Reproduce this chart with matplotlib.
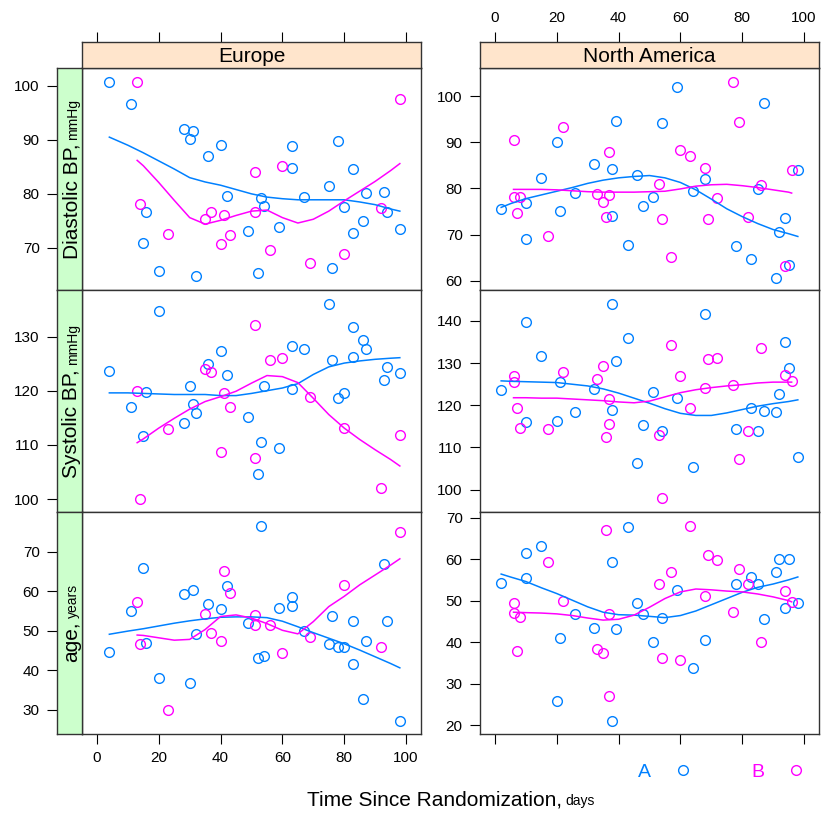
import matplotlib
matplotlib.use('Agg')
import matplotlib.pyplot as plt
from matplotlib.transforms import Affine2D
from matplotlib.lines import Line2D

plt.rcParams['font.family'] = ['Liberation Sans', 'DejaVu Sans']

# --- Europe, group A ---
eu_a_days = [4, 11, 15, 16, 20, 28, 30, 31, 32, 36, 40, 42, 49, 52, 53, 54,
             59, 63, 63, 67, 75, 76, 78, 80, 83, 83, 86, 87, 93, 94, 98]
eu_a_dbp = [100.7, 96.7, 70.9, 76.7, 65.8, 92.0, 90.1, 91.7, 64.7, 87.0, 89.0, 79.6, 73.1, 65.4, 79.3, 77.8,
            73.8, 88.8, 84.8, 79.4, 81.5, 66.2, 89.8, 77.6, 84.6, 72.7, 74.9, 80.1, 80.4, 76.6, 73.5]
eu_a_sbp = [123.7, 116.9, 111.6, 119.8, 134.8, 114.1, 120.8, 117.6, 115.8, 125.0, 127.4, 122.9, 115.2, 104.7, 110.6, 120.8,
            109.5, 128.3, 120.3, 127.7, 136.0, 125.7, 118.6, 119.6, 131.7, 126.2, 129.3, 127.7, 121.9, 124.3, 123.3]
eu_a_age = [44.5, 55.1, 65.8, 47.0, 38.1, 59.2, 36.8, 60.3, 49.1, 56.7, 55.4, 61.3, 51.9, 43.0, 76.5, 43.7,
            55.8, 58.6, 56.3, 49.9, 46.6, 53.7, 45.8, 46.0, 41.5, 52.5, 32.6, 47.4, 66.9, 52.5, 27.2]

# --- Europe, group B ---
eu_b_days = [13, 14, 23, 35, 37, 40, 41, 43, 51, 51, 56, 60, 69, 80, 92, 98]
eu_b_dbp = [100.7, 78.1, 72.5, 75.4, 76.7, 70.7, 76.1, 72.4, 84.0, 76.6, 69.6, 85.1, 67.2, 68.9, 77.4, 97.5]
eu_b_sbp = [120.0, 100.0, 112.9, 124.0, 123.4, 108.7, 119.6, 117.0, 132.2, 107.5, 125.7, 126.0, 118.9, 113.1, 102.0, 111.8]
eu_b_age = [57.3, 46.6, 29.9, 54.2, 49.3, 47.5, 65.2, 59.5, 54.0, 51.4, 51.4, 44.3, 48.3, 61.6, 45.8, 74.9]

# --- North America, group A ---
na_a_days = [2, 10, 10, 15, 20, 21, 26, 32, 38, 38, 39, 43, 46, 48, 51, 54,
             59, 64, 68, 78, 83, 85, 87, 91, 92, 94, 95, 98]
na_a_dbp = [75.6, 76.9, 69.1, 82.2, 90.0, 75.2, 79.1, 85.2, 84.2, 74.0, 94.6, 67.8, 82.9, 76.1, 78.2, 94.2,
            102.0, 79.4, 82.0, 67.6, 64.7, 79.8, 98.6, 60.7, 70.5, 73.6, 63.4, 84.1]
na_a_sbp = [123.6, 116.1, 139.8, 131.8, 116.3, 125.6, 118.3, 123.9, 144.0, 118.9, 130.5, 135.9, 106.3, 115.3, 123.2, 113.8,
            121.8, 105.3, 141.7, 114.3, 119.4, 113.9, 118.7, 118.3, 122.6, 135.1, 128.9, 107.7]
na_a_age = [54.2, 55.5, 61.4, 63.2, 25.8, 41.1, 46.7, 43.5, 59.4, 21.0, 43.2, 67.7, 49.4, 46.7, 39.9, 45.9,
            52.6, 33.8, 40.5, 53.9, 55.6, 53.9, 45.6, 57.0, 60.0, 48.3, 60.0, 49.4]

# --- North America, group B ---
na_b_days = [6, 6, 7, 8, 17, 22, 33, 35, 36, 37, 37, 53, 54, 57, 60, 63,
             68, 69, 72, 77, 79, 82, 86, 94, 96]
na_b_dbp = [90.6, 78.1, 74.6, 78.1, 69.8, 93.4, 78.9, 77.1, 73.8, 87.9, 78.5, 81.0, 73.4, 65.1, 88.3, 87.1,
            84.4, 73.4, 77.9, 103.1, 94.4, 73.8, 80.7, 63.3, 83.9]
na_b_sbp = [127.0, 125.6, 119.4, 114.6, 114.3, 127.8, 126.2, 129.4, 112.6, 115.5, 121.5, 113.0, 98.0, 134.3, 127.0, 119.4,
            124.0, 131.0, 131.3, 124.8, 107.3, 113.8, 133.7, 127.2, 125.8]
na_b_age = [49.5, 47.1, 37.9, 46.0, 59.4, 49.9, 38.3, 37.3, 67.0, 46.7, 27.0, 53.9, 36.2, 57.0, 35.7, 68.1,
            51.2, 61.0, 59.8, 47.3, 57.6, 53.9, 40.1, 52.2, 49.7]

# loess smooths, read along a grid of days
eu_a_grid = [4, 10, 15, 20, 25, 30, 35, 40, 45, 50, 55, 60, 65, 70, 75, 80, 85, 90, 95, 98]
eu_a_dbp_fit = [90.5, 89.0, 87.6, 86.1, 84.6, 83.0, 82.2, 81.6, 80.8, 80.0, 79.4, 79.1, 78.9, 78.9, 78.9, 78.9,
                78.5, 78.0, 77.2, 76.8]
eu_a_sbp_fit = [119.6, 119.6, 119.5, 119.4, 119.3, 119.3, 119.3, 119.1, 119.1, 119.5, 120.0, 120.5, 121.3, 123.0,
                124.4, 125.1, 125.5, 125.8, 126.0, 126.1]
eu_a_age_fit = [49.1, 49.9, 50.5, 51.2, 51.9, 52.5, 53.0, 53.4, 53.5, 53.5, 53.3, 52.4, 51.0, 49.5, 48.1, 46.7,
                45.1, 43.4, 41.7, 40.6]

eu_b_grid = [13, 15, 20, 25, 30, 35, 40, 45, 50, 55, 60, 65, 70, 75, 80, 85, 90, 95, 98]
eu_b_dbp_fit = [86.2, 85.2, 82.1, 78.8, 75.6, 74.4, 75.1, 76.0, 76.8, 77.0, 75.6, 74.6, 75.3, 76.8, 78.7, 80.5,
                82.3, 84.3, 85.6]
eu_b_sbp_fit = [110.4, 111.1, 113.1, 114.9, 116.6, 118.0, 118.9, 119.9, 121.4, 122.8, 122.6, 121.5, 118.6, 115.6,
                113.1, 111.0, 109.1, 107.3, 106.1]
eu_b_age_fit = [48.9, 48.8, 48.2, 47.6, 47.8, 50.3, 53.6, 54.0, 53.2, 51.8, 50.1, 49.2, 52.3, 56.1, 58.7, 61.6,
                64.1, 66.6, 68.2]

na_a_grid = [2, 5, 10, 15, 20, 25, 30, 35, 40, 45, 50, 55, 60, 65, 70, 75, 80, 85, 90, 95, 98]
na_a_dbp_fit = [75.9, 76.7, 77.8, 78.6, 79.4, 80.2, 81.1, 81.8, 82.3, 82.6, 82.8, 82.3, 81.3, 79.7, 77.7, 75.6,
                73.9, 72.4, 71.1, 70.2, 69.6]
na_a_sbp_fit = [125.8, 125.7, 125.6, 125.5, 125.4, 125.0, 124.6, 123.9, 122.9, 121.7, 120.5, 119.2, 118.1, 117.6,
                117.6, 118.2, 119.0, 119.8, 120.4, 120.9, 121.3]
na_a_age_fit = [56.4, 55.7, 54.6, 53.1, 51.7, 50.1, 48.5, 47.2, 46.6, 46.5, 46.2, 45.9, 46.4, 47.5, 49.0, 50.5,
                52.0, 53.2, 54.0, 55.0, 55.7]

na_b_grid = [6, 10, 15, 20, 25, 30, 35, 40, 45, 50, 55, 60, 65, 70, 75, 80, 85, 90, 95, 96]
na_b_dbp_fit = [79.8, 79.8, 79.8, 79.7, 79.5, 79.3, 79.2, 79.2, 79.2, 79.3, 79.4, 79.9, 80.5, 80.8, 80.9, 80.6,
                80.2, 79.7, 79.2, 79.0]
na_b_sbp_fit = [121.8, 121.8, 121.7, 121.7, 121.5, 121.3, 121.1, 120.8, 120.6, 121.0, 122.0, 123.0, 123.7, 124.2,
                124.6, 124.9, 125.3, 125.5, 125.5, 125.5]
na_b_age_fit = [47.2, 47.1, 47.0, 46.8, 46.4, 45.8, 45.3, 45.5, 46.5, 48.4, 50.5, 52.1, 52.8, 52.6, 52.3, 52.1,
                51.6, 50.9, 50.0, 49.7]

regions = ['Europe', 'North America']
groups = ['A', 'B']
col_a = '#0080ff'
col_b = '#ff00ff'
x_ticks = [0, 20, 40, 60, 80, 100]

W, H = 821, 813
fig = plt.figure(figsize=(W / 100, H / 100), dpi=100)
pix = Affine2D().scale(1, -1).translate(0, H)  # pixel coords, origin top-left


def box(l, t, r, b):
    return [l / W, 1 - b / H, (r - l) / W, (b - t) / H]


col_edges = [(82, 421), (480, 819)]
row_edges = [(68, 290), (290, 512), (512, 734)]
xlim = (-4.85, 104.85)

# (rows) x (columns): each panel gets its own y range
panels = [
    [(eu_a_days, eu_a_dbp, eu_a_grid, eu_a_dbp_fit, eu_b_days, eu_b_dbp, eu_b_grid, eu_b_dbp_fit,
      (62.2, 103.3), [70, 80, 90, 100]),
     (na_a_days, na_a_dbp, na_a_grid, na_a_dbp_fit, na_b_days, na_b_dbp, na_b_grid, na_b_dbp_fit,
      (58.0, 106.1), [60, 70, 80, 90, 100])],
    [(eu_a_days, eu_a_sbp, eu_a_grid, eu_a_sbp_fit, eu_b_days, eu_b_sbp, eu_b_grid, eu_b_sbp_fit,
      (97.6, 138.6), [100, 110, 120, 130]),
     (na_a_days, na_a_sbp, na_a_grid, na_a_sbp_fit, na_b_days, na_b_sbp, na_b_grid, na_b_sbp_fit,
      (94.7, 147.35), [100, 110, 120, 130, 140])],
    [(eu_a_days, eu_a_age, eu_a_grid, eu_a_age_fit, eu_b_days, eu_b_age, eu_b_grid, eu_b_age_fit,
      (23.85, 80.05), [30, 40, 50, 60, 70]),
     (na_a_days, na_a_age, na_a_grid, na_a_age_fit, na_b_days, na_b_age, na_b_grid, na_b_age_fit,
      (17.83, 71.37), [20, 30, 40, 50, 60, 70])],
]
row_names = [('Diastolic BP,', 'mmHg'), ('Systolic BP,', 'mmHg'), ('age,', 'years')]

tick_kw = dict(direction='out', length=7.5, width=0.8, pad=5, labelsize=11, colors='black')
edge = '#333333'
msize = 7


def style_spines(a):
    for s in a.spines.values():
        s.set_color(edge)
        s.set_linewidth(1.0)


for i, row in enumerate(panels):
    top, bot = row_edges[i]
    for j, (xa, ya, ga, fa, xb, yb, gb, fb, ylim, yt) in enumerate(row):
        left, right = col_edges[j]
        ax = fig.add_axes(box(left, top, right, bot))
        ax.plot(xa, ya, 'o', mfc='none', mec=col_a, ms=msize, mew=1.0)
        ax.plot(xb, yb, 'o', mfc='none', mec=col_b, ms=msize, mew=1.0)
        ax.plot(ga, fa, color=col_a, lw=1.1)
        ax.plot(gb, fb, color=col_b, lw=1.1)
        ax.set_xlim(xlim)
        ax.set_ylim(ylim)
        ax.set_xticks(x_ticks)
        ax.set_yticks(yt)
        style_spines(ax)
        ax.tick_params(left=False, bottom=False, labelleft=False, labelbottom=False)
        if j == 1:
            ax.tick_params(axis='y', left=True, labelleft=True, **tick_kw)
        if i == 2:
            ax.tick_params(axis='x', bottom=True, labelbottom=(j == 0), **tick_kw)

        if j == 0:
            # variable strip on the left carries the y axis
            sax = fig.add_axes(box(57, top, 82, bot))
            sax.set_facecolor('#ccffcc')
            sax.set_ylim(ylim)
            sax.set_yticks(yt)
            sax.set_xticks([])
            sax.tick_params(axis='y', **tick_kw)
            style_spines(sax)
        if i == 0:
            tax = fig.add_axes(box(left, 42, right, 68))
            tax.set_facecolor('#ffe5cc')
            tax.set_xlim(xlim)
            tax.set_xticks(x_ticks)
            tax.set_yticks([])
            tax.xaxis.tick_top()
            tax.tick_params(axis='x', top=True, bottom=False, labeltop=(j == 1), labelbottom=False, **tick_kw)
            tax.text(0.5, 0.45, regions[j], transform=tax.transAxes, ha='center', va='center', fontsize=15)
            style_spines(tax)

renderer = fig.canvas.get_renderer()


def two_size_label(cx, cy, main, unit, vertical):
    rot = 90 if vertical else 0
    t1 = fig.text(0, 0, main, fontsize=15, rotation=rot, rotation_mode='anchor',
                  ha='left', va='baseline', transform=pix)
    t2 = fig.text(0, 0, unit, fontsize=10, rotation=rot, rotation_mode='anchor',
                  ha='left', va='baseline', transform=pix)
    b1 = t1.get_window_extent(renderer)
    b2 = t2.get_window_extent(renderer)
    gap = 4
    if vertical:
        l1, l2 = b1.height, b2.height
        start = cy + (l1 + gap + l2) / 2
        t1.set_position((cx, start))
        t2.set_position((cx, start - l1 - gap))
    else:
        l1, l2 = b1.width, b2.width
        start = cx - (l1 + gap + l2) / 2
        t1.set_position((start, cy))
        t2.set_position((start + l1 + gap, cy))


for i, (main, unit) in enumerate(row_names):
    top, bot = row_edges[i]
    two_size_label(77, (top + bot) / 2, main, unit, True)

two_size_label(451, 805, 'Time Since Randomization,', 'days', False)

handles = [Line2D([], [], marker='o', ls='none', mfc='none', mec=c, ms=msize, mew=1.0) for c in (col_a, col_b)]
leg = fig.legend(handles, groups, ncol=2, markerfirst=False, frameon=False, fontsize=14,
                 handlelength=1.0, handletextpad=1.15, columnspacing=3.0,
                 loc='center', bbox_to_anchor=(722, 772), bbox_transform=pix)
for t, c in zip(leg.get_texts(), (col_a, col_b)):
    t.set_color(c)

fig.savefig('out.png', dpi=100)
